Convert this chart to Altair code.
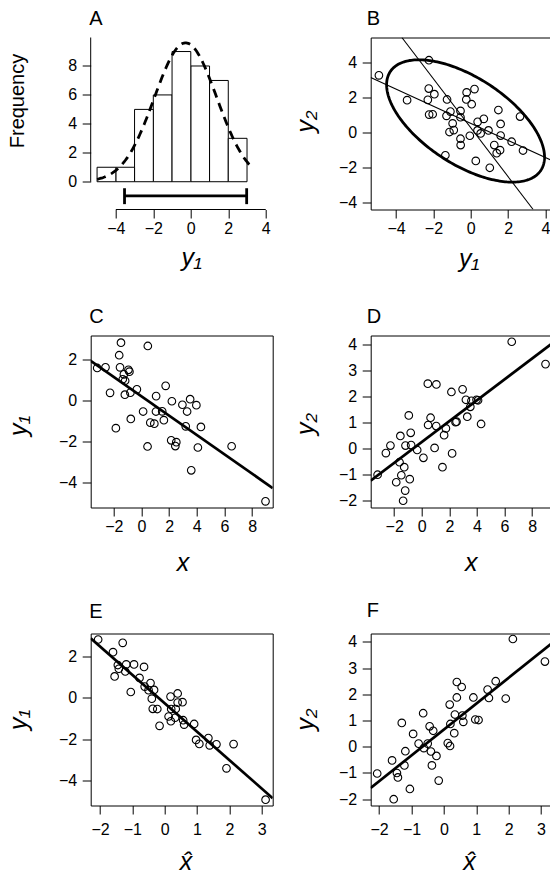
import numpy as np
import pandas as pd
import altair as alt

# ---- observations -------------------------------------------------------
x = [-3.2, -2.6, -2.27, -1.85, -1.61, -1.55, -1.48, -1.35, -1.27, -1.2,
     -1.18, -0.94, -0.87, -0.8, -0.77, -0.33, 0.12, 0.44, 0.46, 0.64,
     0.93, 1.06, 1.05, 1.5, 1.62, 1.75, 2.15, 2.2, 2.45, 2.52,
     2.96, 3.2, 3.3, 3.52, 3.6, 3.97, 4.08, 4.3, 6.52, 8.97]
y1 = [1.57, 1.6, 0.36, -1.36, 2.19, 1.6, 2.8, 1.02, 1.26, 0.27,
      0.95, 1.48, 1.39, 0.37, -0.91, 0.53, -0.55, -2.25, 2.64, -1.09,
      -1.14, 0.2, -0.55, -0.54, -0.97, 0.7, -1.95, -0.05, -2.23, -2.04,
      -0.22, -1.27, -0.55, 0.05, -3.41, -0.24, -2.3, -1.3, -2.24, -4.92]
y2 = [-1.0, -0.17, 0.12, -1.29, -0.52, 0.49, -1.02, -2.0, -0.71, -1.61,
      0.12, 1.28, -1.17, 0.61, 0.14, -0.05, -0.35, 2.5, 0.91, 1.19,
      0.03, 2.47, 0.87, -0.71, 0.52, 0.78, 2.18, -0.18, 1.02, 1.04,
      2.28, 1.88, 1.23, 1.61, 1.84, 1.88, 1.86, 0.95, 4.11, 3.25]
xhat = [-1.45, -1.19, -0.5, -0.16, -1.6, -0.95, -2.06, -1.55, -1.22, -1.05,
        -0.78, -0.64, -1.42, -0.33, 0.12, -0.62, -0.23, 1.6, -1.3, 0.57,
        0.19, 0.4, 0.2, -0.37, 0.32, -0.44, 1.35, -0.4, 1.07, 0.97,
        0.55, 0.91, 0.34, 0.18, 1.91, 0.4, 1.39, 0.6, 2.13, 3.12]

# histogram bins for y1
BIN_EXTENT = [-5, 3]
BIN_STEP = 1
CURVE_FROM, CURVE_TO = -5.0, 3.33
# radius of the 95% data ellipse: sqrt(2 * F(0.95; 2, n - 1))
ELLIPSE_RADIUS = 2.545

# axis ticks
TICKS_A_X = [-4, -2, 0, 2, 4]
TICKS_A_Y = [0, 2, 4, 6, 8]
TICKS_B = [-4, -2, 0, 2, 4]
TICKS_X = [-2, 0, 2, 4, 6, 8]
TICKS_Y1 = [-4, -2, 0, 2]
TICKS_Y2 = [-2, -1, 0, 1, 2, 3, 4]
TICKS_XHAT = [-2, -1, 0, 1, 2, 3]

# scale domains
DOM_A_X = [-5.34, 4.37]
DOM_A_Y = [-1.92, 9.97]
DOM_B_X = [-5.36, 4.39]
DOM_B_Y = [-4.37, 5.40]
DOM_C_X = [-3.67, 9.49]
DOM_C_Y = [-5.22, 3.15]
DOM_D_X = [-3.70, 9.49]
DOM_D_Y = [-2.26, 4.35]
DOM_E_X = [-2.29, 3.34]
DOM_E_Y = [-5.20, 3.09]
DOM_F_X = [-2.26, 3.36]
DOM_F_Y = [-2.24, 4.32]

W, H = 182, 172
FONT = "Liberation Sans"
LINE_W = 2.7
TITLE_SIZE = 20

df = pd.DataFrame({"x": x, "y1": y1, "y2": y2, "xhat": xhat})
n = len(y1)

# fitted normal curve and mean +/- 1.96 sd interval for y1
mu1 = float(np.mean(y1))
sd1 = float(np.std(y1, ddof=1))
cx = np.linspace(CURVE_FROM, CURVE_TO, 150)
cy = n * BIN_STEP * np.exp(-0.5 * ((cx - mu1) / sd1) ** 2) / (sd1 * np.sqrt(2 * np.pi))
curve = pd.DataFrame({"cx": cx, "cy": cy})
interval = pd.DataFrame({"lo": [mu1 - 1.96 * sd1], "hi": [mu1 + 1.96 * sd1]})
caps = pd.DataFrame({"v": [mu1 - 1.96 * sd1, mu1 + 1.96 * sd1]})

# data ellipse of (y1, y2)
Y = np.column_stack([y1, y2])
centre = Y.mean(axis=0)
chol = np.linalg.cholesky(np.cov(Y.T))
t = np.linspace(0, 2 * np.pi, 241)
ring = centre + ELLIPSE_RADIUS * (chol @ np.vstack([np.cos(t), np.sin(t)])).T
ellipse = pd.DataFrame({"e1": ring[:, 0], "e2": ring[:, 1], "k": np.arange(len(t))})


def sc(dom):
    return alt.Scale(domain=dom, nice=False, zero=False)


def xax(values, title, tx, ty, **kw):
    return alt.Axis(values=values, tickCount=len(values), title=title, titleX=tx, titleY=ty,
                    labelOverlap=False, titleAlign="center", titleBaseline="alphabetic", **kw)


def yax(values, title, tx, ty, **kw):
    return alt.Axis(values=values, tickCount=len(values), title=title, titleX=tx, titleY=ty,
                    titleAngle=270, labelOverlap=False, titleAlign="center",
                    titleBaseline="alphabetic", **kw)


def panel_title(letter, offset, dx):
    return alt.TitleParams(text=letter, anchor="start", frame="group", offset=offset,
                           dx=dx, dy=TITLE_SIZE, baseline="alphabetic", fontSize=TITLE_SIZE,
                           font=FONT, fontWeight="normal", color="black")


def points(xf, yf, dx, dy, axx, axy):
    return alt.Chart(df).mark_point(shape="circle", filled=False, size=58, strokeWidth=1.1,
                                    color="black", opacity=1).encode(
        x=alt.X(f"{xf}:Q", scale=sc(dx), axis=axx),
        y=alt.Y(f"{yf}:Q", scale=sc(dy), axis=axy),
    )


def fit_line(xf, yf, dx, width=LINE_W):
    return alt.Chart(df).transform_regression(xf, yf, extent=dx).mark_line(
        color="black", strokeWidth=width, clip=True).encode(x=f"{xf}:Q", y=f"{yf}:Q")


MATH = dict(titleFontStyle="italic", titleFontSize=25)

# ---- A: histogram of y1 ---------------------------------------------------
hist = alt.Chart(df).transform_bin("b", "y1", bin=alt.Bin(extent=BIN_EXTENT, step=BIN_STEP)).transform_aggregate(
    count="count()", groupby=["b", "b_end"]).mark_rect(fill="white", stroke="black", strokeWidth=1).encode(
    x=alt.X("b:Q", scale=sc(DOM_A_X), axis=xax(TICKS_A_X, "y₁", 100.6, 56.4, **MATH)),
    x2="b_end:Q",
    y=alt.Y("count:Q", scale=sc(DOM_A_Y),
            axis=yax(TICKS_A_Y, "Frequency", -67.1, 63, titleFontStyle="normal", titleFontSize=20)),
    y2=alt.datum(0),
)
norm_curve = alt.Chart(curve).mark_line(color="black", strokeWidth=2.8, strokeDash=[9, 6]).encode(
    x="cx:Q", y="cy:Q")
bar = alt.Chart(interval).mark_rule(color="black", strokeWidth=2.8).encode(
    x="lo:Q", x2="hi:Q", y=alt.datum(-0.98))
bar_caps = alt.Chart(caps).mark_rule(color="black", strokeWidth=2.8).encode(
    x="v:Q", y=alt.datum(-0.45), y2=alt.datum(-1.55))
axis_line_x = alt.Chart(interval).mark_rule(color="black", strokeWidth=1).encode(
    x=alt.datum(TICKS_A_X[0]), x2=alt.datum(TICKS_A_X[-1]), y=alt.datum(DOM_A_Y[0]))
axis_line_y = alt.Chart(interval).mark_rule(color="black", strokeWidth=1).encode(
    x=alt.datum(DOM_A_X[0]), y=alt.datum(0), y2=alt.datum(DOM_A_Y[1]))
panel_a = alt.layer(hist, norm_curve, bar, bar_caps, axis_line_x, axis_line_y).properties(
    width=W, height=H, title=panel_title("A", 12.5, -1.5),
    view=alt.ViewBackground(strokeOpacity=0))

# ---- B: y2 against y1 with data ellipse and both regression lines ---------
b_pts = points("y1", "y2", DOM_B_X, DOM_B_Y,
               xax(TICKS_B, "y₁", 98, 57, **MATH),
               yax(TICKS_B, "y₂", -57.7, 83.5, **MATH))
b_line1 = alt.Chart(df).transform_regression("y1", "y2", extent=DOM_B_X).mark_line(
    color="black", strokeWidth=1.1, clip=True).encode(x="y1:Q", y="y2:Q")
b_line2 = alt.Chart(df).transform_regression("y2", "y1", extent=DOM_B_Y).mark_line(
    color="black", strokeWidth=1.1, clip=True).encode(x="y1:Q", y="y2:Q", order="y2:Q")
b_ell = alt.Chart(ellipse).mark_line(color="black", strokeWidth=2.8, clip=True).encode(
    x="e1:Q", y="e2:Q", order="k:Q")
panel_b = alt.layer(b_line1, b_line2, b_ell, b_pts).properties(
    width=W, height=H, title=panel_title("B", 12.5, -4))

# ---- C, D: y1 and y2 against x -------------------------------------------
panel_c = alt.layer(
    points("x", "y1", DOM_C_X, DOM_C_Y,
           xax(TICKS_X, "x", 91.8, 63.3, **MATH),
           yax(TICKS_Y1, "y₁", -64.4, 89.7, **MATH)),
    fit_line("x", "y1", DOM_C_X),
).properties(width=W, height=H, title=panel_title("C", 12.5, -1.5))

panel_d = alt.layer(
    points("x", "y2", DOM_D_X, DOM_D_Y,
           xax(TICKS_X, "x", 100, 63.3, **MATH),
           yax(TICKS_Y2, "y₂", -57.7, 88, **MATH)),
    fit_line("x", "y2", DOM_D_X),
).properties(width=W, height=H, title=panel_title("D", 12.5, -4))

# ---- E, F: y1 and y2 against the estimated latent score ------------------
panel_e = alt.layer(
    points("xhat", "y1", DOM_E_X, DOM_E_Y,
           xax(TICKS_XHAT, "x\u0302", 94.8, 64, labelPadding=7, **MATH),
           yax(TICKS_Y1, "y₁", -64.4, 85.7, **MATH)),
    fit_line("xhat", "y1", DOM_E_X),
).properties(width=W, height=H, title=panel_title("E", 15.5, -1.5))

panel_f = alt.layer(
    points("xhat", "y2", DOM_F_X, DOM_F_Y,
           xax(TICKS_XHAT, "x\u0302", 98.3, 64, labelPadding=7, **MATH),
           yax(TICKS_Y2, "y₂", -57.7, 85.5, **MATH)),
    fit_line("xhat", "y2", DOM_F_X),
).properties(width=W, height=H, title=panel_title("F", 15.5, -4))

chart = alt.concat(
    panel_a, panel_b, panel_c, panel_d, panel_e, panel_f,
    columns=2, spacing={"row": 126, "column": 98}, bounds="flush",
).properties(
    autosize=alt.AutoSizeParams(type="none"),
    padding={"left": 90.7, "top": 37.5, "right": 459.3, "bottom": 837.5},
    background="white",
).configure_view(
    stroke="black", strokeWidth=1, fill="white",
).configure_axis(
    grid=False, domain=False, ticks=True, tickSize=8.5, tickColor="black", tickWidth=1,
    labelFont=FONT, labelFontSize=16, labelColor="black", labelFlush=False, labelOverlap=False,
    labelExpr="(datum.value < 0 ? '\u2212' : '') + abs(datum.value)",
    titleFont=FONT, titleColor="black", titleFontWeight="normal",
).configure_axisX(labelPadding=2).configure_axisY(labelPadding=5.5)

chart.save("out.html", embed_options={"renderer": "svg", "actions": False})
